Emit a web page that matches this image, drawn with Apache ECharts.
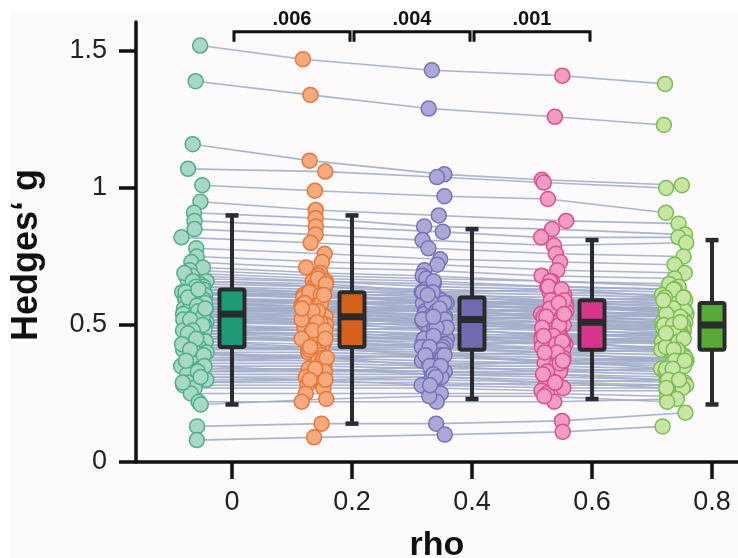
<!DOCTYPE html>
<html>
<head>
<meta charset="utf-8">
<script src="https://cdn.jsdelivr.net/npm/echarts@6/dist/echarts.min.js"></script>
<style>html,body{margin:0;padding:0;background:#fcfafa;}#c{width:738px;height:558px;}</style>
</head>
<body>
<div id="c"></div>
<script>
// ---- data ----
const rhoLevels = [0, 0.2, 0.4, 0.6, 0.8];
const tickLabels = ['0', '0.2', '0.4', '0.6', '0.8'];
const yTicks = [0, 0.5, 1, 1.5];

// Hedges' g per study (same study order in every array)
const g_rho0 = [1.52,1.39,1.16,1.07,1.01,0.95,0.91,0.88,0.85,0.82,
0.78,0.75,0.73,0.71,0.70,0.68,0.67,0.66,0.65,0.64,
0.63,0.62,0.62,0.61,0.61,0.60,0.60,0.59,0.59,0.58,
0.58,0.58,0.57,0.57,0.56,0.56,0.56,0.55,0.55,0.55,
0.54,0.54,0.54,0.53,0.53,0.52,0.52,0.51,0.51,0.50,
0.50,0.49,0.49,0.48,0.48,0.47,0.47,0.46,0.46,0.45,
0.45,0.44,0.44,0.43,0.42,0.41,0.40,0.40,0.39,0.38,
0.37,0.36,0.35,0.34,0.33,0.32,0.31,0.30,0.29,0.28,
0.27,0.25,0.22,0.21,0.13,0.08,
0.69,0.66,0.64,0.62,0.60,0.58,0.57,0.55,0.53,0.52,
0.50,0.48,0.47,0.45,0.43,0.41,0.39,0.37,0.35,0.33,
0.31,0.29,0.63,0.56];
const g_rho02 = [1.47,1.34,1.10,1.06,0.99,0.92,0.89,0.86,0.83,0.80,
0.76,0.73,0.71,0.69,0.68,0.66,0.66,0.64,0.64,0.63,
0.62,0.61,0.60,0.60,0.61,0.59,0.58,0.58,0.59,0.57,
0.56,0.57,0.56,0.55,0.55,0.56,0.54,0.54,0.55,0.53,
0.53,0.54,0.52,0.52,0.53,0.51,0.50,0.50,0.51,0.49,
0.48,0.48,0.49,0.47,0.46,0.46,0.47,0.45,0.44,0.44,
0.45,0.43,0.42,0.42,0.41,0.41,0.40,0.38,0.39,0.38,
0.37,0.36,0.35,0.34,0.33,0.32,0.31,0.30,0.29,0.28,
0.27,0.25,0.22,0.23,0.14,0.09,
0.67,0.65,0.62,0.61,0.58,0.58,0.55,0.55,0.51,0.52,
0.48,0.48,0.45,0.45,0.41,0.42,0.38,0.38,0.33,0.34,
0.30,0.30,0.61,0.56];
const g_rho04 = [1.43,1.29,1.05,1.04,0.97,0.90,0.86,0.84,0.81,0.78,
0.74,0.72,0.70,0.68,0.67,0.65,0.64,0.63,0.62,0.61,
0.60,0.59,0.60,0.59,0.58,0.58,0.58,0.57,0.56,0.56,
0.57,0.55,0.55,0.55,0.54,0.53,0.54,0.53,0.52,0.53,
0.52,0.51,0.52,0.51,0.50,0.50,0.51,0.49,0.48,0.48,
0.49,0.47,0.46,0.46,0.47,0.45,0.44,0.45,0.45,0.44,
0.43,0.43,0.43,0.42,0.41,0.40,0.39,0.39,0.38,0.37,
0.36,0.35,0.34,0.33,0.33,0.32,0.31,0.30,0.29,0.28,
0.27,0.25,0.22,0.24,0.14,0.10,
0.66,0.62,0.62,0.58,0.58,0.55,0.56,0.52,0.52,0.49,
0.49,0.45,0.46,0.42,0.42,0.39,0.39,0.35,0.35,0.32,
0.31,0.28,0.61,0.53];
const g_rho06 = [1.41,1.26,1.03,1.02,0.96,0.88,0.85,0.82,0.79,0.76,
0.73,0.70,0.68,0.66,0.66,0.64,0.63,0.62,0.61,0.60,
0.59,0.58,0.57,0.57,0.58,0.57,0.56,0.56,0.57,0.55,
0.54,0.55,0.54,0.53,0.53,0.54,0.52,0.52,0.53,0.51,
0.51,0.51,0.50,0.50,0.50,0.49,0.48,0.48,0.49,0.47,
0.46,0.46,0.47,0.45,0.44,0.45,0.46,0.44,0.43,0.43,
0.44,0.42,0.41,0.41,0.40,0.39,0.38,0.37,0.37,0.36,
0.36,0.35,0.34,0.33,0.32,0.31,0.30,0.29,0.28,0.27,
0.26,0.25,0.22,0.24,0.15,0.11,
0.64,0.63,0.59,0.59,0.56,0.56,0.53,0.53,0.49,0.50,
0.46,0.46,0.43,0.44,0.40,0.40,0.36,0.37,0.33,0.32,
0.29,0.29,0.58,0.54];
const g_rho08 = [1.38,1.23,1.01,1.00,0.91,0.87,0.83,0.82,0.80,0.75,
0.72,0.69,0.67,0.65,0.64,0.63,0.62,0.61,0.60,0.59,
0.58,0.57,0.58,0.56,0.55,0.55,0.56,0.55,0.54,0.54,
0.55,0.53,0.53,0.53,0.52,0.51,0.52,0.51,0.50,0.51,
0.50,0.49,0.50,0.49,0.48,0.48,0.49,0.47,0.46,0.46,
0.47,0.46,0.45,0.45,0.46,0.44,0.43,0.43,0.44,0.42,
0.41,0.41,0.42,0.40,0.39,0.38,0.37,0.38,0.37,0.36,
0.35,0.34,0.33,0.32,0.31,0.30,0.29,0.28,0.28,0.27,
0.26,0.24,0.23,0.22,0.18,0.13,
0.63,0.60,0.60,0.56,0.56,0.53,0.54,0.50,0.50,0.47,
0.47,0.44,0.45,0.41,0.41,0.37,0.37,0.34,0.34,0.30,
0.30,0.27,0.59,0.51];
const gByLevel = [g_rho0, g_rho02, g_rho04, g_rho06, g_rho08];

// box plot statistics
const whiskerLow  = [0.21, 0.14, 0.23, 0.23, 0.21];
const quart1      = [0.42, 0.42, 0.41, 0.41, 0.41];
const medians     = [0.54, 0.53, 0.52, 0.51, 0.50];
const quart3      = [0.63, 0.62, 0.60, 0.59, 0.58];
const whiskerHigh = [0.90, 0.90, 0.85, 0.81, 0.81];

// pairwise comparisons (adjacent levels)
const pLabels = ['.006', '.004', '.001'];

// ---- styles ----
const pointFill   = ['#a6d8c3', '#f6a97c', '#aba8d8', '#f29bc3', '#c7e6a4'];
const pointBorder = ['#4fae8c', '#e5773a', '#7872b6', '#d9508f', '#7cbd53'];
const boxFill     = ['#1e9b76', '#d6611a', '#716bb0', '#d6368b', '#58aa38'];
const dark = '#2a2b2d';
const FONT = '"Liberation Sans", Arial, sans-serif';

function jit(i, k) {
  const s = Math.sin((i + 1) * 12.9898 + (k + 1) * 78.233) * 43758.5453;
  return s - Math.floor(s);
}
function xPos(i, k) { return rhoLevels[k] - 0.085 + 0.043 * jit(i, k); }

const nStudies = g_rho0.length;

// paired lines
const lineData = [];
for (let i = 0; i < nStudies; i++) {
  const row = [];
  for (let k = 0; k < rhoLevels.length; k++) { row.push(xPos(i, k), gByLevel[k][i]); }
  lineData.push(row);
}

const scatterSeries = rhoLevels.map((r, k) => ({
  type: 'scatter',
  z: 3,
  symbolSize: 15,
  silent: true,
  itemStyle: { color: pointFill[k], borderColor: pointBorder[k], borderWidth: 1.5, opacity: 1 },
  data: gByLevel[k].map((v, i) => [xPos(i, k), v])
}));

const boxData = rhoLevels.map((r, k) => [r, whiskerLow[k], quart1[k], medians[k], quart3[k], whiskerHigh[k], k]);

const bracketData = [[0, 1, 0], [1, 2, 1], [2, 3, 2]];

const chart = echarts.init(document.getElementById('c'), null, { renderer: 'canvas' });
chart.setOption({
  backgroundColor: '#fcfafa',
  animation: false,
  textStyle: { fontFamily: FONT },
  grid: { left: 136, right: 0, top: 22, bottom: 96, containLabel: false, outerBoundsMode: 'none' },
  xAxis: {
    type: 'value', min: -0.16, max: 0.8433,
    name: 'rho', nameLocation: 'middle', nameGap: 67,
    nameTextStyle: { fontSize: 34, fontWeight: 'bold', color: '#111', fontFamily: FONT },
    axisLine: { show: true, onZero: false, lineStyle: { color: '#111', width: 3.5 } },
    axisTick: { show: true, customValues: rhoLevels, length: 17, lineStyle: { color: '#111', width: 3.5 } },
    axisLabel: { customValues: rhoLevels, fontSize: 27, color: '#222', margin: 27,
      formatter: v => tickLabels[rhoLevels.indexOf(Math.round(v * 10) / 10)] ?? '' },
    splitLine: { show: false }
  },
  yAxis: {
    type: 'value', min: 0, max: 1.606,
    name: 'Hedges\u2018 g', nameLocation: 'middle', nameGap: 91,
    nameTextStyle: { fontSize: 36, fontWeight: 'bold', color: '#111', fontFamily: FONT, padding: [0, 26, 0, 0] },
    axisLine: { show: true, onZero: false, lineStyle: { color: '#111', width: 3.5 } },
    axisTick: { show: true, customValues: yTicks, length: 17, lineStyle: { color: '#111', width: 3.5 } },
    axisLabel: { customValues: yTicks, fontSize: 27, color: '#222', margin: 29 },
    splitLine: { show: false }
  },
  graphic: [
    { type: 'rect', z: -10, shape: { x: 0, y: 0, width: 738, height: 12 }, style: { fill: '#ffffff' } },
    { type: 'rect', z: -10, shape: { x: 0, y: 0, width: 10, height: 558 }, style: { fill: '#ffffff' } }
  ],
  series: [
    {
      type: 'custom', z: 1, silent: true, clip: false,
      data: lineData,
      renderItem: function (params, api) {
        const pts = [];
        for (let k = 0; k < rhoLevels.length; k++) pts.push(api.coord([api.value(2 * k), api.value(2 * k + 1)]));
        return { type: 'polyline', shape: { points: pts },
          style: { stroke: '#a2adca', lineWidth: 1.6, fill: null, opacity: 0.9 } };
      }
    },
    ...scatterSeries,
    {
      type: 'custom', z: 5, silent: true, clip: false,
      data: boxData,
      renderItem: function (params, api) {
        const x = api.value(0);
        const lo = api.coord([x, api.value(1)]);
        const q1 = api.coord([x, api.value(2)]);
        const md = api.coord([x, api.value(3)]);
        const q3 = api.coord([x, api.value(4)]);
        const hi = api.coord([x, api.value(5)]);
        const k = api.value(6);
        const cx = lo[0], w = 25, cap = 13;
        return { type: 'group', children: [
          { type: 'line', shape: { x1: cx, y1: hi[1], x2: cx, y2: lo[1] }, style: { stroke: dark, lineWidth: 4 } },
          { type: 'line', shape: { x1: cx - cap / 2, y1: hi[1], x2: cx + cap / 2, y2: hi[1] }, style: { stroke: dark, lineWidth: 4.5 } },
          { type: 'line', shape: { x1: cx - cap / 2, y1: lo[1], x2: cx + cap / 2, y2: lo[1] }, style: { stroke: dark, lineWidth: 4.5 } },
          { type: 'rect', shape: { x: cx - w / 2, y: q3[1], width: w, height: q1[1] - q3[1], r: 2 },
            style: { fill: boxFill[k], stroke: dark, lineWidth: 4 } },
          { type: 'line', shape: { x1: cx - w / 2, y1: md[1], x2: cx + w / 2, y2: md[1] }, style: { stroke: dark, lineWidth: 7 } }
        ] };
      }
    },
    {
      type: 'custom', z: 6, silent: true, clip: false,
      data: bracketData,
      renderItem: function (params, api) {
        const a = api.coord([rhoLevels[api.value(0)], 1.57]);
        const b = api.coord([rhoLevels[api.value(1)], 1.57]);
        const x1 = a[0] + 2, x2 = b[0] - 2, y = a[1], drop = 10;
        return { type: 'group', children: [
          { type: 'polyline', shape: { points: [[x1, y + drop], [x1, y], [x2, y], [x2, y + drop]] },
            style: { stroke: '#111', lineWidth: 3, fill: null } },
          { type: 'text', x: (x1 + x2) / 2, y: y - 2,
            style: { text: pLabels[api.value(2)], fill: '#111', font: 'bold 20px ' + FONT, align: 'center', verticalAlign: 'bottom' } }
        ] };
      }
    }
  ]
});
</script>
</body>
</html>
